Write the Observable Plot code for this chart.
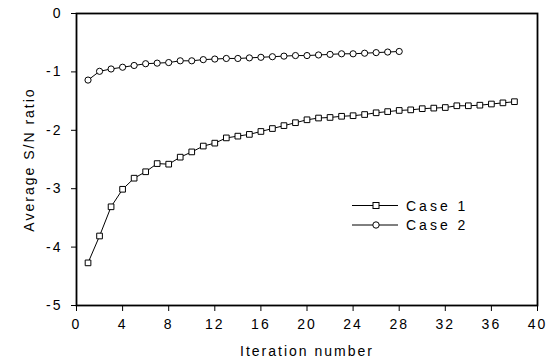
<!DOCTYPE html>
<html>
<head>
<meta charset="utf-8">
<script src="https://cdn.jsdelivr.net/npm/d3@7"></script>
<script src="https://cdn.jsdelivr.net/npm/@observablehq/plot@0.6"></script>
<style>
  html, body { margin: 0; padding: 0; background: #fff; }
  #wrap { position: relative; width: 559px; height: 362px; }
  #legend { position: absolute; left: 0; top: 0; pointer-events: none; }
  svg text { font-family: "Liberation Sans", Arial, Helvetica, sans-serif; }
</style>
</head>
<body>
<div id="wrap"></div>
<script>
const case1Iter = d3.range(1, 39);
const case1Values = [-4.27, -3.81, -3.31, -3.01, -2.82, -2.71, -2.57, -2.58, -2.46, -2.37,
  -2.27, -2.22, -2.13, -2.10, -2.07, -2.02, -1.97, -1.92, -1.87, -1.82,
  -1.79, -1.78, -1.76, -1.75, -1.73, -1.70, -1.68, -1.66, -1.65, -1.63,
  -1.62, -1.61, -1.58, -1.58, -1.57, -1.55, -1.53, -1.51];
const case2Iter = d3.range(1, 29);
const case2Values = [-1.14, -0.99, -0.95, -0.92, -0.89, -0.86, -0.85, -0.84, -0.81, -0.81,
  -0.79, -0.78, -0.77, -0.77, -0.76, -0.75, -0.74, -0.73, -0.72, -0.72,
  -0.71, -0.70, -0.69, -0.69, -0.68, -0.67, -0.66, -0.65];
const seriesNames = ["Case 1", "Case 2"];
const xTicks = [0, 4, 8, 12, 16, 20, 24, 28, 32, 36, 40];
const yTicks = [0, -1, -2, -3, -4, -5];

const case1 = case1Iter.map((x, i) => ({x, y: case1Values[i]}));
const case2 = case2Iter.map((x, i) => ({x, y: case2Values[i]}));

const font = "Liberation Sans, Arial, Helvetica, sans-serif";

const chart = Plot.plot({
  width: 559,
  height: 362,
  marginLeft: 76,
  marginRight: 22,
  marginTop: 13,
  marginBottom: 57,
  style: {fontFamily: font, fontSize: "14px", color: "#000", background: "#fff", letterSpacing: "2px"},
  x: {domain: [0, 40], ticks: xTicks, tickSize: 6, tickPadding: 8, tickFormat: d => String(d),
      label: "Iteration number", labelAnchor: "center", labelOffset: 50, labelArrow: "none"},
  y: {domain: [-5, 0], ticks: yTicks, tickSize: 5, tickPadding: 9, tickFormat: d => String(d),
      label: "Average S/N ratio", labelAnchor: "center", labelOffset: 52, labelArrow: "none"},
  marks: [
    Plot.frame({stroke: "#000", strokeWidth: 1.8}),
    Plot.line(case1, {x: "x", y: "y", stroke: "#000", strokeWidth: 1}),
    Plot.line(case2, {x: "x", y: "y", stroke: "#000", strokeWidth: 1}),
    Plot.dot(case1, {x: "x", y: "y", symbol: "square", r: 3.2, stroke: "#000", fill: "#fff", strokeWidth: 1}),
    Plot.dot(case2, {x: "x", y: "y", symbol: "circle", r: 3.1, stroke: "#000", fill: "#fff", strokeWidth: 1})
  ]
});
const wrap = document.getElementById("wrap");
wrap.appendChild(chart);

// legend overlay
const ns = "http://www.w3.org/2000/svg";
const lg = document.createElementNS(ns, "svg");
lg.setAttribute("id", "legend");
lg.setAttribute("width", 559);
lg.setAttribute("height", 362);
const rows = [{y: 205.5, sym: "square"}, {y: 225, sym: "circle"}];
rows.forEach((r, i) => {
  const l = document.createElementNS(ns, "line");
  l.setAttribute("x1", 352); l.setAttribute("x2", 398);
  l.setAttribute("y1", r.y); l.setAttribute("y2", r.y);
  l.setAttribute("stroke", "#000"); l.setAttribute("stroke-width", 1);
  lg.appendChild(l);
  let m;
  if (r.sym === "square") {
    m = document.createElementNS(ns, "rect");
    m.setAttribute("x", 373); m.setAttribute("y", r.y - 3);
    m.setAttribute("width", 6); m.setAttribute("height", 6);
  } else {
    m = document.createElementNS(ns, "circle");
    m.setAttribute("cx", 376); m.setAttribute("cy", r.y); m.setAttribute("r", 3.2);
  }
  m.setAttribute("fill", "#fff"); m.setAttribute("stroke", "#000"); m.setAttribute("stroke-width", 1);
  lg.appendChild(m);
  const t = document.createElementNS(ns, "text");
  t.setAttribute("x", 406); t.setAttribute("y", r.y + 5);
  t.setAttribute("font-size", 14);
  t.setAttribute("letter-spacing", "3px");
  t.textContent = seriesNames[i];
  lg.appendChild(t);
});
wrap.appendChild(lg);
</script>
</body>
</html>
